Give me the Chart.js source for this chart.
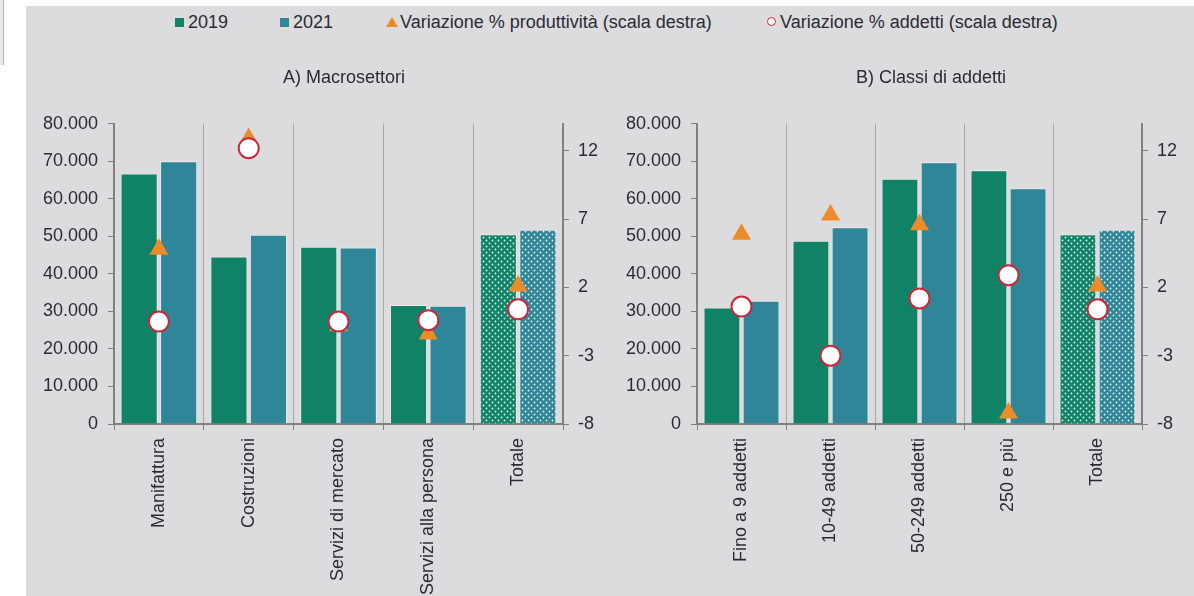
<!DOCTYPE html>
<html>
<head>
<meta charset="utf-8">
<script src="https://cdn.jsdelivr.net/npm/chart.js@4.4.1/dist/chart.umd.min.js"></script>
<style>
  body { margin: 0; width: 1194px; height: 596px; overflow: hidden; background: #fff; position: relative; font-family: "Liberation Sans", Arial, sans-serif; }
  #panel { position: absolute; left: 26px; top: 6px; right: 0; bottom: 0; background: #dcdcde; }
  #strip { position: absolute; left: 0; top: 0; width: 3px; height: 65px; background: #e8e8e8; border-right: 1px solid #b4b4b4; }
  canvas { position: absolute; top: 50px; }
  .leg { position: absolute; top: 11px; font-size: 18px; line-height: 22px; color: #2b2b36; white-space: nowrap; }
  .sq { position: absolute; top: 18px; width: 9px; height: 9px; }
</style>
</head>
<body>
<div id="strip"></div>
<div id="panel"></div>

<div class="sq" style="left:175px;background:#108367"></div>
<span class="leg" style="left:188px">2019</span>
<div class="sq" style="left:280px;background:#2e8698"></div>
<span class="leg" style="left:293px">2021</span>
<div style="position:absolute;left:386px;top:17px;width:0;height:0;border-left:6px solid transparent;border-right:6px solid transparent;border-bottom:10px solid #ec8b2a"></div>
<span class="leg" style="left:400px">Variazione % produttività (scala destra)</span>
<div style="position:absolute;left:767px;top:17px;width:7px;height:7px;border:1.5px solid #c8283c;border-radius:50%;background:#fff"></div>
<span class="leg" style="left:780px">Variazione % addetti (scala destra)</span>

<canvas id="chartA" width="636" height="546" style="left:26px"></canvas>
<canvas id="chartB" width="622" height="546" style="left:620px"></canvas>

<script>
// A) Macrosettori
const categoriesA = ['Manifattura', 'Costruzioni', 'Servizi di mercato', 'Servizi alla persona', 'Totale'];
const a2019 = [66700, 44600, 47200, 31700, 50500];
const a2021 = [70000, 50400, 47000, 31500, 51700];
const aProduttivita = [4.8, 12.9, -0.8, -1.4, 2.1];
const aAddetti = [-0.5, 12.2, -0.5, -0.4, 0.4];

// B) Classi di addetti
const categoriesB = ['Fino a 9 addetti', '10-49 addetti', '50-249 addetti', '250 e più', 'Totale'];
const b2019 = [31000, 48800, 65300, 67600, 50500];
const b2021 = [32800, 52400, 69700, 62800, 51700];
const bProduttivita = [5.9, 7.3, 6.6, -7.2, 2.1];
const bAddetti = [0.6, -3.0, 1.2, 2.9, 0.4];

const rightTicks = [-8, -3, 2, 7, 12];

const FONT = "'Liberation Sans', Arial, sans-serif";
const TEXT = '#2b2b36';
const GREEN = '#108367';
const TEAL = '#2e8698';

// dotted fill for the "Totale" bars
function dots(color) {
    const c = document.createElement('canvas');
    c.width = 6; c.height = 6;
    const g = c.getContext('2d');
    g.fillStyle = color;
    g.fillRect(0, 0, 6, 6);
    g.fillStyle = 'rgba(255,255,255,0.9)';
    g.beginPath(); g.arc(1.5, 1.5, 0.9, 0, Math.PI * 2); g.fill();
    g.beginPath(); g.arc(4.5, 4.5, 0.9, 0, Math.PI * 2); g.fill();
    return g.createPattern(c, 'repeat');
}

const fmt = v => String(v).replace(/\B(?=(\d{3})+(?!\d))/g, '.');

function makeChart(id, title, labels, v2019, v2021, prod, add, leftW, rightW) {
    const fill2019 = labels.map((l, i) => i === labels.length - 1 ? dots(GREEN) : GREEN);
    const fill2021 = labels.map((l, i) => i === labels.length - 1 ? dots(TEAL) : TEAL);

    return new Chart(document.getElementById(id).getContext('2d'), {
        type: 'bar',
        data: {
            labels: labels,
            datasets: [
                {
                    type: 'line', label: 'Variazione % addetti (scala destra)', data: add, yAxisID: 'y1',
                    showLine: false, pointStyle: 'circle', pointRadius: 10,
                    pointBackgroundColor: '#ffffff', pointBorderColor: '#c8283c', pointBorderWidth: 2, order: 0, clip: false
                },
                {
                    type: 'line', label: 'Variazione % produttività (scala destra)', data: prod, yAxisID: 'y1',
                    showLine: false, pointStyle: 'triangle', pointRadius: 11,
                    pointBackgroundColor: '#ec8b2a', pointBorderColor: '#ec8b2a', pointBorderWidth: 0, order: 1, clip: false
                },
                {
                    label: '2019', data: v2019, yAxisID: 'y', backgroundColor: fill2019,
                    borderColor: 'rgba(255,255,255,0.45)', borderWidth: 1, order: 2,
                    categoryPercentage: 0.88, barPercentage: 0.94
                },
                {
                    label: '2021', data: v2021, yAxisID: 'y', backgroundColor: fill2021,
                    borderColor: 'rgba(255,255,255,0.45)', borderWidth: 1, order: 2,
                    categoryPercentage: 0.88, barPercentage: 0.94
                }
            ]
        },
        options: {
            responsive: false,
            animation: false,
            layout: { padding: 0 },
            plugins: {
                legend: { display: false },
                tooltip: { enabled: false },
                title: {
                    display: true, text: title, color: TEXT,
                    font: { family: FONT, size: 18, weight: 'normal' },
                    padding: { top: 17, bottom: 35 }
                }
            },
            scales: {
                x: {
                    grid: { color: '#a9a9ab', lineWidth: 1, tickColor: '#808080', tickLength: 6, offset: true },
                    border: { color: '#808080', width: 2 },
                    ticks: { color: TEXT, font: { family: FONT, size: 18 }, minRotation: 90, maxRotation: 90, padding: 8, autoSkip: false },
                    afterFit: s => { s.height = 172; }
                },
                y: {
                    position: 'left', min: 0, max: 80000,
                    grid: { drawOnChartArea: false, tickColor: '#808080', tickLength: 6 },
                    border: { color: '#808080', width: 2 },
                    ticks: { stepSize: 10000, color: TEXT, font: { family: FONT, size: 18 }, padding: 10, callback: v => fmt(v) },
                    afterFit: s => { s.width = leftW; }
                },
                y1: {
                    position: 'right', min: -8, max: 14,
                    grid: { drawOnChartArea: false, tickColor: '#808080', tickLength: 6 },
                    border: { color: '#808080', width: 2 },
                    ticks: { color: TEXT, font: { family: FONT, size: 18 }, padding: 9 },
                    afterBuildTicks: s => { s.ticks = rightTicks.map(v => ({ value: v })); },
                    afterFit: s => { s.width = rightW; }
                }
            }
        }
    });
}

makeChart('chartA', 'A) Macrosettori', categoriesA, a2019, a2021, aProduttivita, aAddetti, 88, 99);
makeChart('chartB', 'B) Classi di addetti', categoriesB, b2019, b2021, bProduttivita, bAddetti, 77, 100);
</script>
</body>
</html>
